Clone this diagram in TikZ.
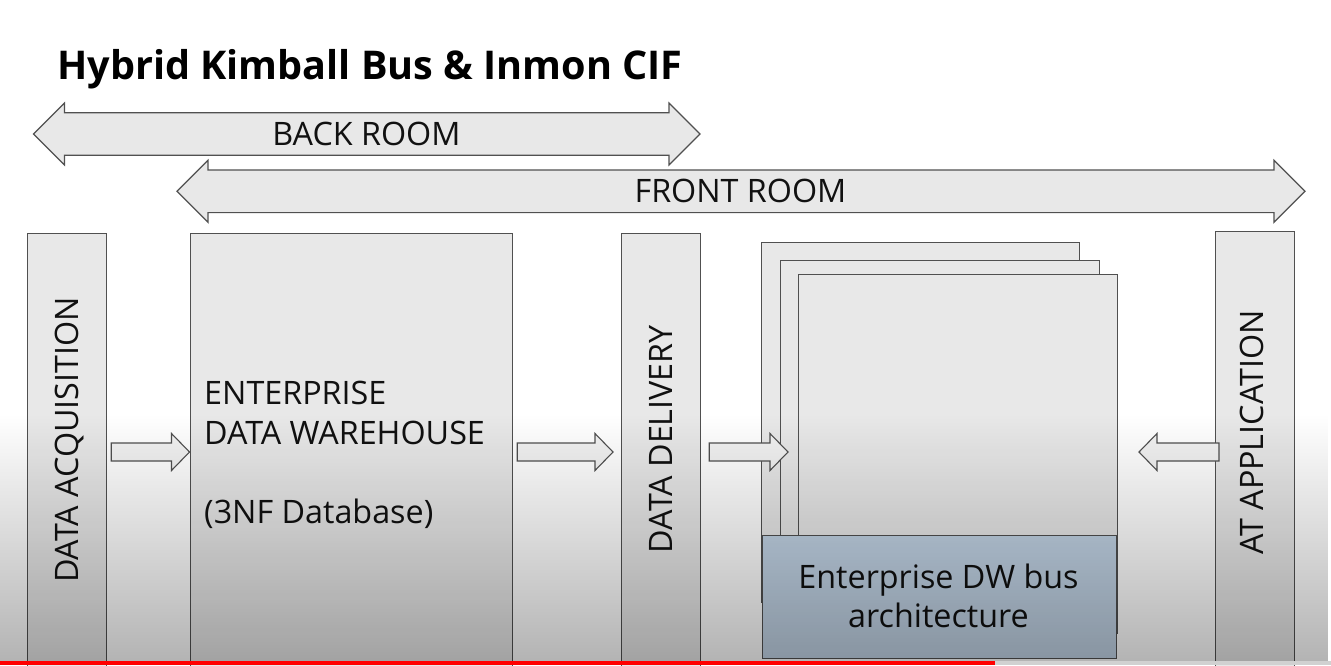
\documentclass[tikz,border=0pt]{standalone}
\usepackage{fontspec}
\setmainfont{Open Sans}
\usetikzlibrary{calc,fadings}
\definecolor{boxgray}{HTML}{E8E8E8}
\definecolor{linegray}{HTML}{505050}
\definecolor{busblue}{HTML}{C2D4E6}
\definecolor{arrowfill}{HTML}{F2F2F2}
\definecolor{txt}{HTML}{111111}
\tikzfading[name=ovl, top color=transparent!100, bottom color=transparent!0]
\tikzset{
  col/.style={draw=linegray, fill=boxgray, line width=1.2pt, inner sep=0pt, anchor=north west},
  page/.style={col},
  busbox/.style={col, fill=busblue},
  lbl/.style={font=\fontsize{32.3}{40}\selectfont, text=txt, inner sep=0pt, anchor=base},
  vlbl/.style={lbl, rotate=90},
  blockarrow/.style={draw=linegray, fill=arrowfill, line width=1.1pt, line join=miter},
  roomarrow/.style={draw=linegray, fill=boxgray, line width=1.2pt, line join=miter},
}
% single block arrow from #1 to #2 (horizontal)
\newcommand\blockarr[2]{%
  \path[blockarrow] let \p1=(#1), \p2=(#2), \n1={ifthenelse(\x2>\x1,1,-1)} in
    (\x1,{\y1+9pt}) -- ({\x2-\n1*18pt},{\y1+9pt}) -- ({\x2-\n1*18pt},{\y1+18.5pt})
    -- (\x2,\y1) -- ({\x2-\n1*18pt},{\y1-18.5pt}) -- ({\x2-\n1*18pt},{\y1-9pt})
    -- (\x1,{\y1-9pt}) -- cycle;}
% double block arrow from #1 to #2
\newcommand\doublearr[2]{%
  \path[roomarrow] let \p1=(#1), \p2=(#2) in
    (\x1,\y1) -- ({\x1+31pt},{\y1+31pt}) -- ({\x1+31pt},{\y1+21.3pt})
    -- ({\x2-31pt},{\y1+21.3pt}) -- ({\x2-31pt},{\y1+31pt}) -- (\x2,\y1)
    -- ({\x2-31pt},{\y1-31pt}) -- ({\x2-31pt},{\y1-21.3pt})
    -- ({\x1+31pt},{\y1-21.3pt}) -- ({\x1+31pt},{\y1-31pt}) -- cycle;}
\begin{document}
\begin{tikzpicture}[x=1pt,y=-1pt]
\useasboundingbox (0,0) rectangle (1331,665);
\fill[white] (0,0) rectangle (1331,665);

% title
\node[anchor=base west, inner sep=0pt, text=black,
      font=\fontsize{39.6}{46}\selectfont\bfseries] (title) at (57,79) {Hybrid Kimball Bus \& Inmon CIF};

% room arrows
\coordinate (backL) at (33.5,134);
\coordinate (backR) at (700,134);
\coordinate (frontL) at (177,191.3);
\coordinate (frontR) at (1305,191.3);
\doublearr{backL}{backR}
\doublearr{frontL}{frontR}
\node[lbl] (back) at (366.5,145) {BACK ROOM};
\node[lbl] (front) at (740.5,202.5) {FRONT ROOM};

% columns
\node[col, minimum width=79pt, minimum height=434pt] (acq) at (27,233) {};
\node[col, minimum width=322pt, minimum height=434pt] (edw) at (190,233) {};
\node[col, minimum width=79pt, minimum height=434pt] (dd) at (621,233) {};
\node[col, minimum width=79pt, minimum height=436pt] (app) at (1215,231) {};

% stacked pages
\node[page, minimum width=318.5pt, minimum height=360pt] (p1) at (760.5,242) {};
\node[page, minimum width=319pt, minimum height=300pt] (p2) at (780,259.5) {};
\node[page, minimum width=318.5pt, minimum height=359pt] (p3) at (798,273.5) {};
\node[busbox, minimum width=354.5pt, minimum height=122.5pt] (bus) at (761.7,535) {};

% block arrows
\coordinate (row) at (0,452);
\coordinate (a1s) at ($(acq.east|-row)+(4,0)$);
\coordinate (a1e) at ($(edw.west|-row)+(-0.5,0)$);
\coordinate (a2s) at ($(edw.east|-row)+(4,0)$);
\coordinate (a2e) at ($(dd.west|-row)+(-8,0)$);
\coordinate (a3s) at ($(dd.east|-row)+(8,0)$);
\coordinate (a3e) at ($(p2.west|-row)+(8,0)$);
\coordinate (a4s) at ($(app.west|-row)+(4,0)$);
\coordinate (a4e) at ($(app.west|-row)+(-76,0)$);
\blockarr{a1s}{a1e}
\blockarr{a2s}{a2e}
\blockarr{a3s}{a3e}
\blockarr{a4s}{a4e}

% labels
\node[vlbl] (acqt) at (78,440) {DATA ACQUISITION};
\node[vlbl] (ddt) at (672,439) {DATA DELIVERY};
\node[vlbl] (appt) at (1263.5,432.5) {AT APPLICATION};
\node[lbl, anchor=base west] (edwt1) at (204,404) {ENTERPRISE};
\node[lbl, anchor=base west] (edwt2) at (204,444) {DATA WAREHOUSE};
\node[lbl, anchor=base west] (edwt3) at (204,523.5) {(3NF Database)};
\node[lbl] (bust1) at (938.5,588.5) {Enterprise DW bus};
\node[lbl] (bust2) at (938.5,627) {architecture};

% bottom darkening
\fill[black, fill opacity=0.3, path fading=ovl] (0,415) rectangle (1331,665);

% progress bar
\fill[red] (0,661) rectangle (995,665);
\fill[black!18] (995,661) rectangle (1331,665);
\end{tikzpicture}
\end{document}
